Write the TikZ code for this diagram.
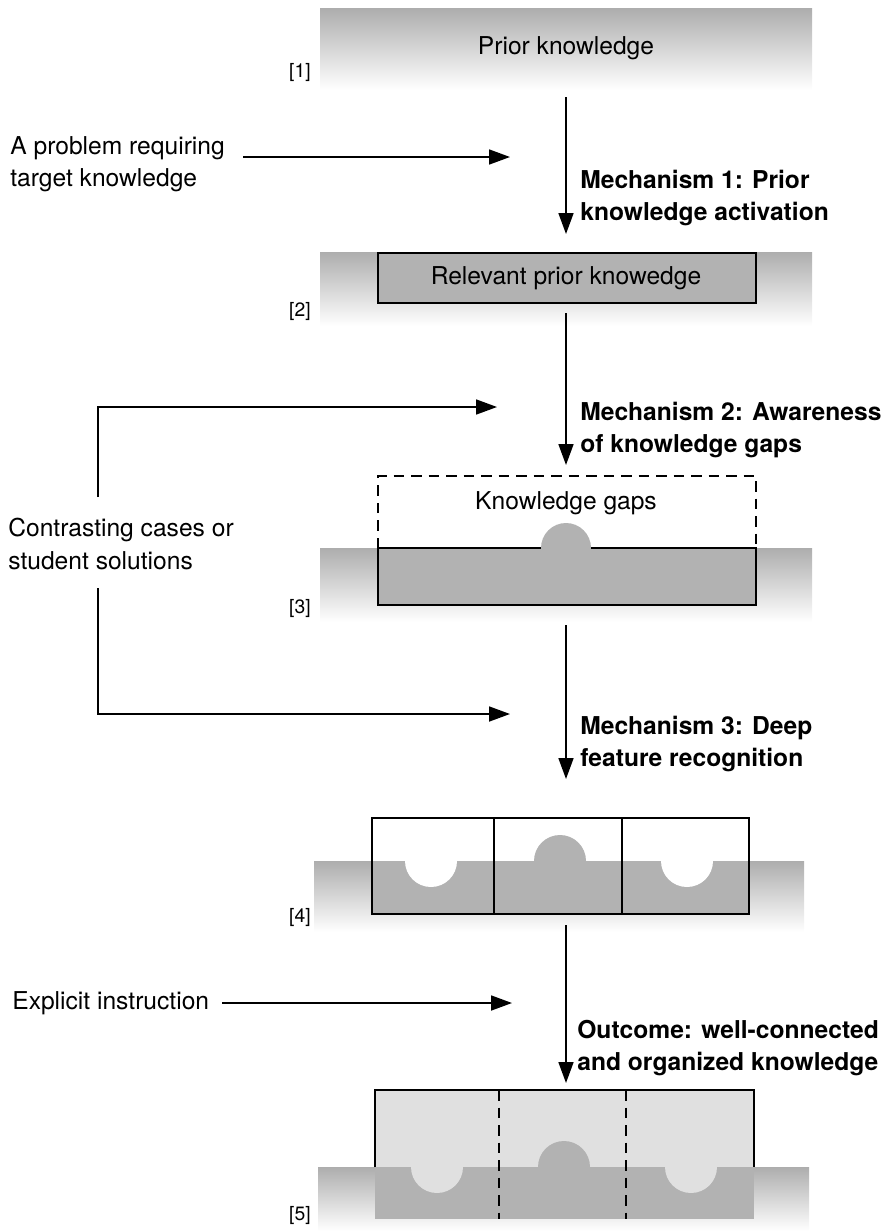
\documentclass[tikz,border=0pt]{standalone}
\usepackage{fontspec}
\setmainfont{TeX Gyre Heros}
\usetikzlibrary{arrows.meta,calc}
\def\band(#1,#2)(#3,#4){\shade[top color=black!32, bottom color=white] (#1,#2) rectangle (#3,#4);}

\begin{document}
\begin{tikzpicture}[x=0.2mm, y=-0.2mm,
		flow/.style={line width=1pt, -{Triangle[length=4.2mm, width=3mm]}},
		txt/.style={font=\fontsize{14}{18.5}\selectfont, align=left, anchor=west, inner sep=0pt},
		mech/.style={txt, font=\fontsize{14}{18.5}\selectfont\bfseries},
		title/.style={font=\fontsize{14}{18.5}\selectfont, inner sep=0pt},
		tag/.style={font=\fontsize{11}{13}\selectfont, anchor=east, inner sep=0pt},
		box/.style={line width=1pt},
		gap/.style={line width=1pt, dash pattern=on 2.1mm off 1.4mm}]
				\useasboundingbox (0,0) rectangle (888,1231);
				
				% [1] prior knowledge
				\band(320,8)(812,90)
				\node[title] (prior) at (566,48) {Prior knowledge};
				\node[tag] (t1) at (311,72) {[1]};
				
				% [2] relevant prior knowledge
				\band(320,252)(812,326)
				\draw[box, fill=black!30] (378,253) rectangle (756,303);
				\node[title] (relevant) at (566,278) {Relevant prior knowedge};
				\node[tag] (t2) at (311,311) {[2]};
				
				% [3] knowledge gaps
				\band(320,548)(812,622)
				\fill[black!30] (378,548) rectangle (756,605);
				\fill[black!30] (566,548) circle (25);
				\draw[box] (541,548) -- (378,548) -- (378,605) -- (756,605) -- (756,548) -- (591,548);
				\draw[gap] (378,548) -- (378,476) -- (756,476) -- (756,548);
				\node[title] (gaps) at (566,503) {Knowledge gaps};
				\node[tag] (t3) at (311,608) {[3]};
				
				% [4] deep features
				\band(314,861)(804,932)
				\fill[white] (372,818) rectangle (749,861);
				\fill[black!30] (372,861) rectangle (749,914);
				\fill[white] (431,861) circle (26);
				\fill[white] (687,861) circle (26);
				\fill[black!30] (560,861) circle (26);
				\draw[box] (494,818) -- (494,914) (622,818) -- (622,914);
				\draw[box] (372,818) rectangle (749,914);
				\node[tag] (t4) at (311,917) {[4]};
				
				% [5] organized knowledge
				\band(318,1167)(809,1231)
				\fill[black!12] (375,1090) rectangle (754,1167);
				\fill[black!30] (375,1167) rectangle (754,1219);
				\fill[black!12] (437,1167) circle (26);
				\fill[black!12] (691,1167) circle (26);
				\fill[black!30] (564,1167) circle (26);
				\draw[box] (375,1167) -- (375,1090) -- (754,1090) -- (754,1167);
				\draw[gap] (499,1090) -- (499,1219) (626,1090) -- (626,1219);
				\node[tag] (t5) at (311,1215) {[5]};
				
				% texts
				\node[txt] (problem) at (10,164) {A problem requiring\\target knowledge};
				\node[txt] (contrast) at (8,544) {Contrasting cases or\\student solutions};
				\node[txt] (explicit) at (12,1003) {Explicit instruction};
				\node[mech] (mech1) at (580,198) {Mechanism 1: Prior\\knowledge activation};
				\node[mech] (mech2) at (580,430) {Mechanism 2: Awareness\\of knowledge gaps};
				\node[mech] (mech3) at (580,744) {Mechanism 3: Deep\\feature recognition};
				\node[mech] (outcome) at (577,1048) {Outcome: well-connected\\and organized knowledge};
				
				% arrows
				\coordinate (s1) at (566,97);   \coordinate (e1) at (566,234);
				\coordinate (s2) at (566,313);  \coordinate (e2) at (566,465);
				\coordinate (s3) at (566,625);  \coordinate (e3) at (566,779);
				\coordinate (s4) at (566,925);  \coordinate (e4) at (566,1083);
				\coordinate (p1) at (243,157);  \coordinate (p2) at (510,157);
				\coordinate (c1) at (98,497);   \coordinate (c2) at (497,407);
				\coordinate (c3) at (98,588);   \coordinate (c4) at (510,714);
				\coordinate (x1) at (222,1003); \coordinate (x2) at (512,1003);
				\draw[flow] (s1) -- (e1);
				\draw[flow] (s2) -- (e2);
				\draw[flow] (s3) -- (e3);
				\draw[flow] (s4) -- (e4);
				\draw[flow] (p1) -- (p2);
				\draw[flow] (c1) |- (c2);
				\draw[flow] (c3) |- (c4);
				\draw[flow] (x1) -- (x2);
			\end{tikzpicture}
\end{document}
